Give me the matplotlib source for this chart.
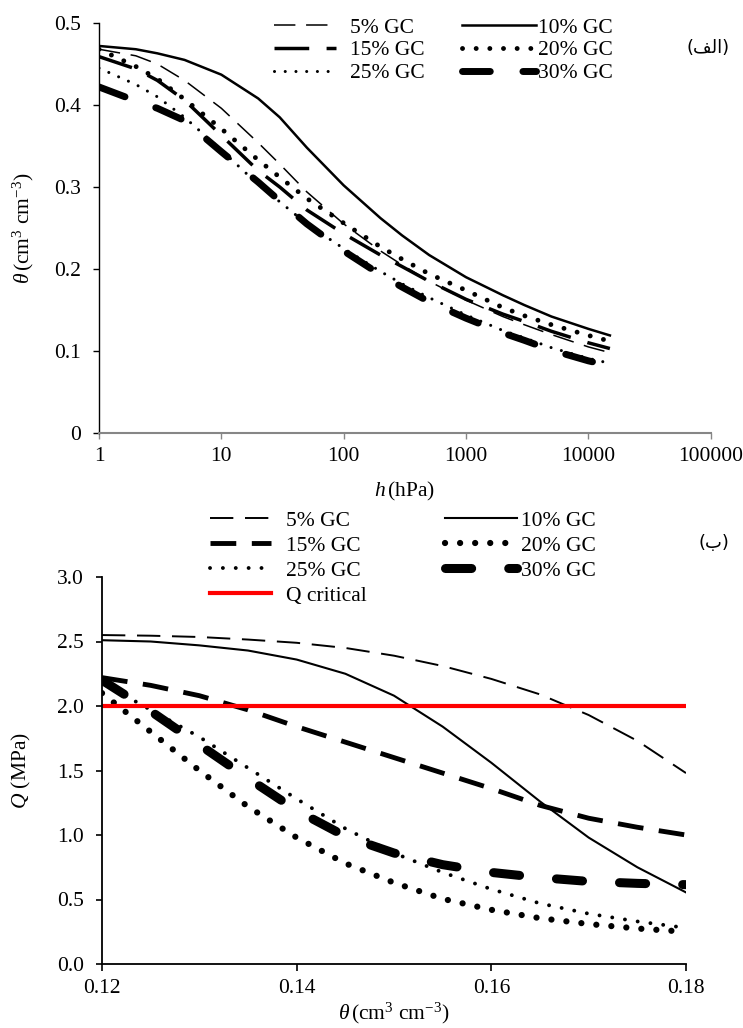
import matplotlib
matplotlib.use('Agg')
import matplotlib.pyplot as plt
from matplotlib.ticker import NullLocator

plt.rcParams['font.family'] = ['Liberation Serif', 'DejaVu Sans']
plt.rcParams['mathtext.fontset'] = 'custom'
plt.rcParams['mathtext.rm'] = 'Liberation Serif'
plt.rcParams['mathtext.it'] = 'Liberation Serif:italic'
plt.rcParams['font.size'] = 15.5

# --- top panel: retention curves theta(h)
h = [1, 2, 3, 5, 10, 20, 30, 50, 100, 200, 300, 500, 1000, 2000, 3000, 5000, 10000, 15000]
gc5_top = [0.468, 0.460, 0.450, 0.430, 0.396, 0.354, 0.328, 0.294, 0.255, 0.222, 0.205, 0.185, 0.162, 0.142, 0.132, 0.120, 0.105, 0.098]
gc10_top = [0.472, 0.468, 0.463, 0.455, 0.437, 0.408, 0.385, 0.348, 0.302, 0.262, 0.241, 0.217, 0.190, 0.168, 0.156, 0.142, 0.127, 0.119]
gc15_top = [0.459, 0.444, 0.430, 0.406, 0.363, 0.320, 0.300, 0.272, 0.243, 0.217, 0.203, 0.185, 0.163, 0.145, 0.136, 0.124, 0.110, 0.103]
gc20_top = [0.468, 0.447, 0.432, 0.407, 0.371, 0.333, 0.312, 0.286, 0.256, 0.227, 0.212, 0.194, 0.174, 0.153, 0.143, 0.132, 0.119, 0.112]
gc25_top = [0.445, 0.425, 0.410, 0.385, 0.345, 0.303, 0.282, 0.255, 0.225, 0.197, 0.182, 0.165, 0.144, 0.125, 0.116, 0.104, 0.091, 0.085]
gc30_top = [0.422, 0.405, 0.396, 0.381, 0.343, 0.306, 0.283, 0.255, 0.222, 0.193, 0.178, 0.160, 0.140, 0.122, 0.113, 0.101, 0.088, 0.082]

# --- bottom panel: Q(theta)
theta = [0.12, 0.125, 0.13, 0.135, 0.14, 0.145, 0.15, 0.155, 0.16, 0.165, 0.17, 0.175, 0.18]
gc5_q = [2.55, 2.545, 2.535, 2.515, 2.49, 2.45, 2.39, 2.31, 2.21, 2.09, 1.93, 1.73, 1.48]
gc10_q = [2.51, 2.50, 2.47, 2.43, 2.36, 2.25, 2.08, 1.84, 1.56, 1.26, 0.98, 0.75, 0.555]
gc15_q = [2.22, 2.16, 2.08, 1.97, 1.84, 1.72, 1.60, 1.48, 1.36, 1.23, 1.13, 1.06, 1.00]
gc20_q = [2.10, 1.80, 1.50, 1.22, 0.98, 0.78, 0.63, 0.505, 0.42, 0.355, 0.31, 0.275, 0.25]
gc25_q = [2.18, 1.97, 1.76, 1.52, 1.28, 1.05, 0.86, 0.71, 0.58, 0.47, 0.39, 0.33, 0.28]
gc30_q = [2.20, 1.96, 1.70, 1.44, 1.19, 0.99, 0.86, 0.77, 0.71, 0.67, 0.64, 0.625, 0.615]
q_critical = 2.0

labels = ['5% GC', '10% GC', '15% GC', '20% GC', '25% GC', '30% GC']

top_styles = [
    dict(lw=1.1, ls=(0, (14, 7))),
    dict(lw=1.8, ls='-'),
    dict(lw=2.5, ls=(0, (10, 5))),
    dict(lw=3.5, ls=(0, (0.01, 2.8)), dash_capstyle='round'),
    dict(lw=2.2, ls=(0, (0.01, 3.5)), dash_capstyle='round'),
    dict(lw=5.0, ls=(0, (4, 4.7)), dash_capstyle='round'),
]
bot_styles = [
    dict(lw=1.4, ls=(0, (12, 6))),
    dict(lw=1.5, ls='-'),
    dict(lw=3.5, ls=(0, (5.3, 3.2))),
    dict(lw=4.5, ls=(0, (0.01, 2.4)), dash_capstyle='round'),
    dict(lw=2.8, ls=(0, (0.01, 3.3)), dash_capstyle='round'),
    dict(lw=6.5, ls=(0, (2.9, 4.1)), dash_capstyle='round'),
]

W, H = 743, 1028
fig = plt.figure(figsize=(W / 100, H / 100), dpi=100)
ax1 = fig.add_axes([99 / W, 1 - 433 / H, (710.7 - 99) / W, 410 / H])
ax2 = fig.add_axes([102 / W, 1 - 964 / H, 584 / W, 387 / H])

# top
lines1 = []
for ys, lab, st in zip([gc5_top, gc10_top, gc15_top, gc20_top, gc25_top, gc30_top], labels, top_styles):
    ln, = ax1.plot(h, ys, color='black', label=lab, **st)
    lines1.append(ln)

ax1.set_xscale('log')
ax1.set_xlim(1, 100000)
ax1.set_ylim(0, 0.5)
ax1.set_xticks([1, 10, 100, 1000, 10000, 100000])
ax1.set_xticklabels(['1', '10', '100', '1000', '10000', '100000'])
ax1.xaxis.set_minor_locator(NullLocator())
ax1.set_yticks([0, 0.1, 0.2, 0.3, 0.4, 0.5])
ax1.set_yticklabels(['0', '0.1', '0.2', '0.3', '0.4', '0.5'])
ax1.spines['top'].set_visible(False)
ax1.spines['right'].set_visible(False)
ax1.spines['bottom'].set_color('#868686')
ax1.spines['bottom'].set_linewidth(1.5)
ax1.spines['left'].set_linewidth(1.0)
ax1.tick_params(axis='x', direction='out', length=4, width=1, color='#868686', pad=6)
ax1.tick_params(axis='y', direction='out', length=4, width=1, pad=9)
ax1.set_ylabel(r'$\theta\,$(cm$^3$ cm$^{-3}$)')
ax1.set_xlabel(r'$h\,$(hPa)')
ax1.yaxis.set_label_coords(-0.103, 0.5)
ax1.xaxis.set_label_coords(0.5, -0.115)

leg_a = ax1.legend([lines1[0], lines1[2], lines1[4]], [labels[0], labels[2], labels[4]],
                   loc='upper left', bbox_to_anchor=(274 / W, 1 - 17.5 / H), bbox_transform=fig.transFigure,
                   frameon=False, borderpad=0, borderaxespad=0, handlelength=2.88, handletextpad=0.65,
                   labelspacing=0.125)
ax1.add_artist(leg_a)
ax1.legend([lines1[1], lines1[3], lines1[5]], [labels[1], labels[3], labels[5]],
           loc='upper left', bbox_to_anchor=(462 / W, 1 - 17.5 / H), bbox_transform=fig.transFigure,
           frameon=False, borderpad=0, borderaxespad=0, handlelength=3.44, handletextpad=0.1,
           labelspacing=0.125)

# bottom
lines2 = []
for ys, lab, st in zip([gc5_q, gc10_q, gc15_q, gc20_q, gc25_q, gc30_q], labels, bot_styles):
    ln, = ax2.plot(theta, ys, color='black', label=lab, **st)
    lines2.append(ln)
qc, = ax2.plot([theta[0], theta[-1]], [q_critical, q_critical], color='#FF0000', lw=3, label='Q critical')

ax2.set_xlim(0.12, 0.18)
ax2.set_ylim(0, 3.0)
ax2.set_xticks([0.12, 0.14, 0.16, 0.18])
ax2.set_xticklabels(['0.12', '0.14', '0.16', '0.18'])
ax2.set_yticks([0, 0.5, 1.0, 1.5, 2.0, 2.5, 3.0])
ax2.set_yticklabels(['0.0', '0.5', '1.0', '1.5', '2.0', '2.5', '3.0'])
ax2.spines['top'].set_visible(False)
ax2.spines['right'].set_visible(False)
ax2.spines['bottom'].set_linewidth(1.3)
ax2.spines['left'].set_linewidth(1.3)
ax2.tick_params(axis='x', direction='out', length=5, width=1.2, pad=6)
ax2.tick_params(axis='y', direction='out', length=4, width=1.2, pad=9)
ax2.set_ylabel(r'$Q$ (MPa)')
ax2.set_xlabel(r'$\theta\,$(cm$^3$ cm$^{-3}$)')
ax2.yaxis.set_label_coords(-0.118, 0.5)
ax2.xaxis.set_label_coords(0.5, -0.094)

leg_c = ax2.legend([lines2[0], lines2[2], lines2[4], qc], [labels[0], labels[2], labels[4], 'Q critical'],
                   loc='upper left', bbox_to_anchor=(210 / W, 1 - 510.5 / H), bbox_transform=fig.transFigure,
                   frameon=False, borderpad=0, borderaxespad=0, handlelength=2.84, handletextpad=0.7,
                   labelspacing=0.23)
ax2.add_artist(leg_c)
ax2.legend([lines2[1], lines2[3], lines2[5]], [labels[1], labels[3], labels[5]],
           loc='upper left', bbox_to_anchor=(445 / W, 1 - 510.5 / H), bbox_transform=fig.transFigure,
           frameon=False, borderpad=0, borderaxespad=0, handlelength=3.35, handletextpad=0.19,
           labelspacing=0.23)

# panel tags
fig.text(708 / W, 1 - 48 / H, '(\uFED2\uFEDF\uFE8D)', family='DejaVu Sans', fontsize=13,
         ha='center', va='center')
fig.text(714 / W, 1 - 543 / H, '(\uFE8F)', family='DejaVu Sans', fontsize=13,
         ha='center', va='center')

fig.savefig('out.png', dpi=100)
